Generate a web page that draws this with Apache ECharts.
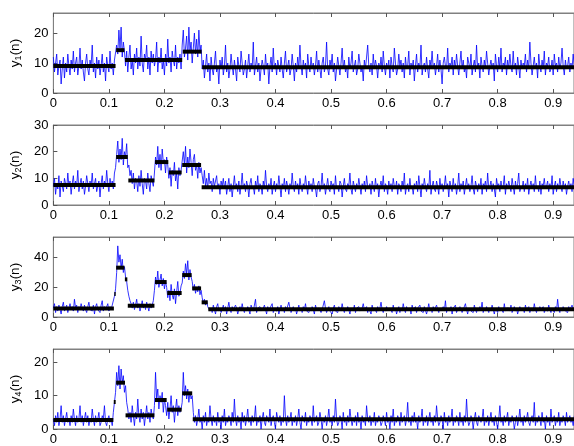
<!DOCTYPE html>
<html>
<head>
<meta charset="utf-8">
<script src="https://cdn.jsdelivr.net/npm/echarts@6/dist/echarts.min.js"></script>
<style>html,body{margin:0;padding:0;background:#fff}#c{width:574px;height:446px}</style>
</head>
<body>
<div id="c"></div>
<script>
// sample spacing of the noisy signals (x = index * dt)
const dt = 0.002;
const xTicks = [0, 0.1, 0.2, 0.3, 0.4, 0.5, 0.6, 0.7, 0.8, 0.9];
const yTicks1 = [0, 10, 20];
const yTicks2 = [0, 10, 20, 30];
const yTicks3 = [0, 20, 40];
const yTicks4 = [0, 10, 20];
const yNames = ['1', '2', '3', '4'];

const y1Noise = [
12,7,10,13,6,9,11,3,8,12,5,10,7,13,9,6,11,8,14,7,10,12,6,9,15,8,11,7,4,10,13,8,6,11,9,16,7,10,5,12,8,11,6,9,13,7,10,4,12,9,7,14,8,10,6,11,
11,16,13,21,15,22,12,17,14,
9,14,7,12,16,8,11,6,13,10,15,8,12,9,19,10,7,13,11,16,8,12,6,14,10,13,9,11,17,7,12,10,15,8,11,6,13,9,18,10,12,7,14,11,9,16,8,12,10,13,8,
16,21,12,15,19,11,22,14,17,10,15,20,13,18,12,21,14,16,
8,11,5,9,13,7,10,4,12,8, 6,10,14,7,9,3,11,8,12,6, 9,16,7,10,5,8,13,9,6,11, 8,4,12,9,7,14,10,6,8,11,
5,9,13,7,10,8,17,6,9,12, 7,10,4,8,11,9,6,13,8,10, 3,9,12,7,15,8,10,6,11,9, 7,12,8,5,10,14,7,9,11,6,
8,13,9,4,10,7,12,8,16,9, 6,11,8,10,5,13,9,7,12,8, 10,6,9,14,7,11,8,5,10,12, 7,9,17,8,6,11,9,13,7,10,
4,8,12,9,6,10,15,8,11,7, 9,5,12,8,10,14,7,9,11,6, 8,13,10,7,9,4,11,8,12,16, 9,7,10,6,13,8,11,9,5,10,
8,12,7,14,9,6,10,8,11,5, 12,9,7,15,10,6,8,13,9,11, 7,10,5,12,8,9,14,6,10,8, 11,4,9,13,7,10,8,16,6,9,
10,7,12,8,5,11,9,14,8,10, 6,9,13,7,11,8,3,10,12,9, 8,15,7,10,9,12,6,11,8,13, 9,6,10,14,8,11,7,9,5,12,
10,8,13,6,9,11,7,16,8,10, 5,12,9,7,11,8,14,10,6,9, 11,8,10,4,13,9,7,12,8,15, 7,10,9,12,6,11,8,13,9,7,
14,8,10,6,12,9,5,11,8,10, 9,13,7,11,8,17,10,6,9,12, 8,10,5,13,9,7,11,8,14,6, 10,9,12,7,8,11,6,13,9,10,
7,12,8,10,15,9,6,11,8,9, 12,7,10,8,13,9
];
const y2Noise = [
7,10,4,8,6,11,3,9,7,5,10,8,6,12,7,9,4,8,11,6,9,7,13,5,8,10,6,9,4,7,11,8,5,9,7,12,6,8,10,5,7,9,3,8,11,6,9,7,13,8,5,10,7,9,6,12,
14,19,24,16,21,17,25,15,20,18,23,14,
15,11,13,8,12,6,10,9,5,11,7,13,8,4,10,9,6,12,8,5,11,9,7,
12,18,15,22,14,19,13,21,16,17,12,18,15,
10,14,7,13,11,16,9,12,6,14,11,13,
13,20,15,22,12,18,14,21,16,11,17,19,13,15,10,16,12,14,
11,8,13,7,10,6,12,8,9,5, 10,7,9,11,6,8,4,9,7,10, 6,9,4,7,10,5,8,3,7,11, 6,8,5,9,4,7,12,6,8,5,
9,7,3,8,10,6,7,4,9,6, 11,5,8,7,4,9,6,13,7,5, 8,6,10,4,7,9,5,8,6,11, 7,3,8,6,10,5,9,7,4,8,
6,12,7,5,9,6,8,4,10,7, 5,8,6,11,7,4,9,6,8,5, 10,7,6,3,8,9,5,7,12,6, 8,4,7,10,6,5,9,7,8,4,
11,6,7,5,9,8,3,7,10,6, 5,8,7,12,6,4,9,7,5,8, 6,10,7,4,8,6,9,5,11,7, 6,8,4,9,7,5,10,6,8,3,
7,9,6,11,5,8,7,4,9,6, 8,5,10,7,6,9,4,8,7,5, 9,6,12,4,7,8,5,10,6,7, 4,8,6,9,5,11,7,3,8,6,
10,7,5,8,6,13,4,7,9,6, 5,9,7,4,10,6,8,5,7,11, 6,8,3,9,7,5,10,6,8,4, 7,12,5,8,6,9,4,7,10,6,
8,5,7,11,6,4,9,7,5,8, 6,10,4,8,7,9,5,12,6,7, 9,5,8,6,3,10,7,8,5,9, 6,7,11,4,8,6,9,7,5,10,
7,4,9,6,8,12,5,7,6,9, 5,8,6,10,4,7,9,6,8,5, 11,6,7,5,9,4,8,7,10,6, 7,9,5,8,6,11,4,7,9,5,
8,6,10,7,5,9,6,8,4,7, 9,6,8,5,10,7
];
const y3Noise = [
6,9,3,7,4,8,5,2,7,10,4,6,8,3,6,9,5,7,4,12,6,8,3,7,5,9,6,4,8,5,3,7,10,5,6,4,8,2,7,9,5,6,3,8,11,4,7,5,6,9,4,7,5,8,
9,14,19,30,48,37,42,33,39,30,34,27,24,18,14,11,
9,6,10,5,8,12,6,9,4,7,11,6,8,5,10,7,4,9,6,8,11,
18,27,22,31,20,25,29,21,26,19,24,
20,13,18,11,22,15,12,19,9,17,24,14,16,21,
23,31,26,36,29,38,25,32,27,
24,18,22,16,20,17,21,15,18,
13,9,12,8,11,7,
7,4,6,3,8,5,2,7,9,4, 6,3,5,8,4,7,2,6,10,5, 3,7,5,4,8,6,2,5,7,4, 9,5,3,6,4,7,5,2,8,6,
4,5,12,3,6,5,7,4,3,6, 8,5,2,7,4,6,5,9,3,5, 6,4,7,2,5,8,4,6,3,7, 5,4,10,6,3,5,7,4,6,2,
5,8,4,6,3,7,5,9,4,5, 3,6,4,7,5,2,8,5,4,6, 7,3,5,4,11,6,3,5,7,4, 5,2,6,8,4,5,3,7,6,4,
9,5,3,6,4,7,5,2,6,5, 4,8,3,6,5,7,4,3,6,9, 5,4,7,3,6,5,2,8,4,6, 5,3,7,4,6,10,5,3,6,4,
7,5,4,6,5,3,8,4,6,2, 5,7,3,6,4,9,5,3,7,5, 4,6,2,8,5,4,7,3,6,5, 8,4,5,3,7,6,2,5,9,4,
6,3,7,5,4,8,5,3,6,4, 5,7,4,11,3,6,5,4,7,2, 6,5,8,3,5,4,7,6,3,5, 4,9,5,2,6,7,4,5,3,8,
5,3,6,4,7,5,10,3,6,4, 7,5,3,6,4,8,5,2,6,5, 3,7,4,6,5,3,9,4,6,5, 6,4,8,3,5,7,4,6,2,5,
7,5,4,6,3,8,5,4,7,3, 5,6,4,9,5,3,6,4,7,5, 4,7,3,5,6,4,8,5,3,6, 5,3,7,4,12,5,3,6,4,7,
6,4,5,3,7,5,4,8,5,4
];
const y4Noise = [
3,1,4,2,5,1,3,7,2,4,1,3,5,2,3,1,4,2,6,3,1,4,2,3,7,2,4,1,3,5,2,4,1,3,2,6,3,1,4,2,3,5,1,2,4,3,7,2,1,3,4,2,3,1,
5,8,11,17,13,19,12,18,14,16,11,13,8,
6,3,5,2,7,4,1,5,3,9,4,2,6,3,5,1,4,7,3,5,2,6,4,3,
7,17,9,12,6,10,8,11,5,9,7,
4,8,3,6,10,5,7,2,6,9,4,7,5,6,
8,17,10,13,9,12,8,11,9,10,
5,2,4,1,3,6,2,3,0,4, 2,5,1,3,2,7,3,1,4,2, 3,1,5,2,3,0,4,2,6,1, 3,2,4,3,1,5,2,9,3,1,
4,2,3,0,5,2,4,1,3,6, 2,3,1,4,2,3,7,1,3,2, 4,0,3,5,2,1,4,3,2,6, 1,3,4,2,0,5,3,2,4,1,
3,2,10,3,1,4,2,3,5,1, 3,2,4,1,3,6,2,0,4,3, 2,5,1,3,2,4,3,1,7,2, 3,4,1,2,5,3,0,3,2,4,
1,3,6,2,3,1,4,2,9,3, 1,2,4,3,0,5,2,3,1,4, 2,6,3,1,3,2,4,1,5,2, 3,0,4,2,3,1,7,3,2,4,
1,3,2,5,1,3,2,4,3,1, 2,4,3,1,5,2,3,0,4,2, 6,1,3,2,4,3,1,5,2,3, 4,1,3,8,2,3,1,4,2,5,
2,3,0,4,2,3,6,1,3,2, 4,1,3,5,2,3,1,4,2,7, 3,1,2,4,3,0,5,2,3,1, 4,2,3,6,1,3,2,4,3,1,
5,2,3,1,4,2,9,3,1,2, 4,3,0,3,5,2,1,4,3,2, 3,6,1,3,2,4,1,3,5,2, 3,1,4,2,0,3,7,2,3,1,
4,2,3,5,1,3,2,4,3,0, 2,4,1,3,6,2,3,1,4,2, 3,5,2,1,3,4,2,8,1,3, 2,4,3,1,5,2,3,0,4,2,
3,1,6,2,3,4,1,3,2,5, 1,3,2,4,3,1,5,2,3,4, 2,3,1,4
];

// piecewise-constant estimates: [start, end, level]
const steps1 = [[0,0.112,9],[0.113,0.128,14.3],[0.129,0.232,11],[0.233,0.267,13.8],[0.268,0.94,8.6]];
const steps2 = [[0,0.112,7.5],[0.113,0.134,18],[0.135,0.182,9.2],[0.183,0.207,16.1],[0.208,0.231,12.2],[0.232,0.266,15],[0.267,0.94,6.7]];
const steps3 = [[0,0.109,5.8],[0.1098,0.1122,15.5],[0.113,0.128,33.3],[0.1288,0.1332,25.4],[0.134,0.182,7.6],[0.183,0.204,23.6],[0.205,0.231,16.2],[0.232,0.249,28.3],[0.250,0.266,19.3],[0.267,0.278,9.9],[0.279,0.94,5.2]];
const steps4 = [[0,0.108,2.7],[0.1088,0.1122,8.1],[0.113,0.129,13.9],[0.130,0.182,4.1],[0.183,0.204,8.7],[0.205,0.231,5.8],[0.232,0.25,10.7],[0.251,0.94,2.9]];

const yMax = [26.7, 30, 54, 24];
const gridTops = [13, 125, 237, 349];
const noise = [y1Noise, y2Noise, y3Noise, y4Noise];
const steps = [steps1, steps2, steps3, steps4];
const yTicks = [yTicks1, yTicks2, yTicks3, yTicks4];

const FONT = 'Liberation Sans, Arial, Helvetica, sans-serif';
const XMAX = 0.9375;
const AX = '#808080';

const grid = [], xAxis = [], yAxis = [], series = [];
for (let k = 0; k < 4; k++) {
  grid.push({left: 50, top: gridTops[k], width: 525, height: 80, show: true, borderColor: AX, borderWidth: 1, backgroundColor: '#fff'});
  xAxis.push({
    type: 'value', gridIndex: k, min: 0, max: XMAX, position: 'bottom',
    axisLine: {show: true, onZero: false, lineStyle: {color: AX}},
    axisTick: {show: true, inside: true, length: 4, customValues: xTicks, lineStyle: {color: '#555'}},
    axisLabel: {customValues: xTicks, margin: 4, color: '#000', fontFamily: FONT, fontSize: 13,
      formatter: v => String(Math.round(v * 10) / 10)},
    splitLine: {show: false}
  });
  xAxis.push({
    type: 'value', gridIndex: k, min: 0, max: XMAX, position: 'top',
    axisLine: {show: true, onZero: false, lineStyle: {color: AX}},
    axisTick: {show: true, inside: true, length: 4, customValues: xTicks, lineStyle: {color: '#555'}},
    axisLabel: {show: false}, splitLine: {show: false}
  });
  yAxis.push({
    type: 'value', gridIndex: k, min: 0, max: yMax[k],
    axisLine: {show: true, lineStyle: {color: AX}},
    axisTick: {show: true, inside: true, length: 4, customValues: yTicks[k], lineStyle: {color: '#555'}},
    axisLabel: {customValues: yTicks[k], margin: 5, color: '#000', fontFamily: FONT, fontSize: 13},
    splitLine: {show: false},
    name: '{a|y}{s|' + yNames[k] + '}{a|(n)}',
    nameLocation: 'middle', nameGap: 25, nameRotate: 90,
    nameTextStyle: {rich: {
      a: {fontFamily: FONT, fontSize: 13.5, color: '#000', lineHeight: 16},
      s: {fontFamily: FONT, fontSize: 9, color: '#000', verticalAlign: 'bottom', lineHeight: 16, padding: [5, 0, 0, 0]}
    }}
  });
  series.push({
    type: 'line', xAxisIndex: 2 * k, yAxisIndex: k, symbol: 'none', animation: false,
    lineStyle: {color: '#0000ff', width: 0.8}, z: 2,
    data: noise[k].map((v, i) => [i * dt, v])
  });
  steps[k].forEach(s => {
    series.push({
      type: 'line', xAxisIndex: 2 * k, yAxisIndex: k, symbol: 'none', animation: false,
      lineStyle: {color: '#000', width: 4, cap: 'butt'}, z: 3,
      data: [[s[0], s[2]], [s[1], s[2]]]
    });
  });
}

const chart = echarts.init(document.getElementById('c'), null, {renderer: 'canvas'});
chart.setOption({backgroundColor: '#fff', animation: false, grid, xAxis, yAxis, series});
</script>
</body>
</html>
